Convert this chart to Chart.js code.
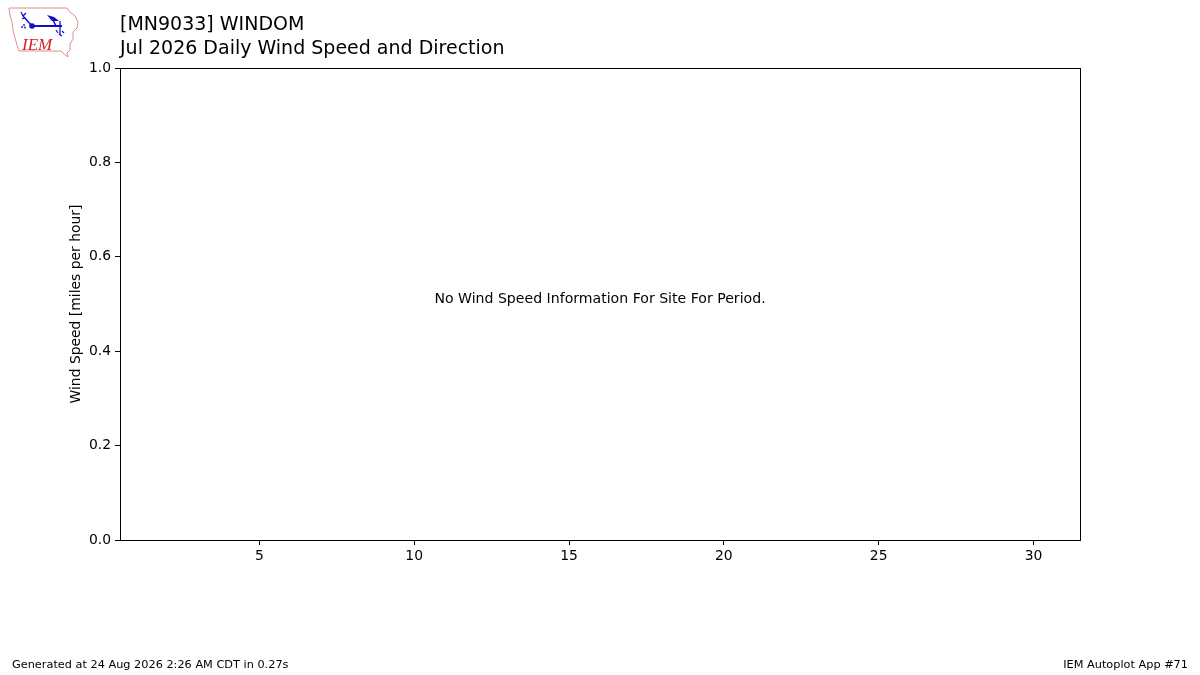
<!DOCTYPE html>
<html>
<head>
<meta charset="utf-8">
<script src="https://cdn.jsdelivr.net/npm/chart.js@4.4.1/dist/chart.umd.min.js"></script>
<style>
  body { margin: 0; background: #fff; font-family: "DejaVu Sans", sans-serif; }
  #wrap { position: relative; width: 1200px; height: 675px; overflow: hidden; }
  #chartCanvas { position: absolute; left: 0; top: 0; }
  .title { position: absolute; left: 120px; font-size: 19px; color: #000; white-space: nowrap; line-height: 1; }
  .foot { position: absolute; top: 659px; font-size: 11.3px; color: #000; white-space: nowrap; line-height: 1; }
  #logo { position: absolute; left: 0; top: 0; }
</style>
</head>
<body>
<div id="wrap">
  <canvas id="chartCanvas" width="1200" height="675"></canvas>
  <svg id="logo" width="90" height="62" viewBox="0 0 90 62">
    <path d="M9 8 L67 8 L70 12 L75 16 L78 22 L77 28 L73 32 L73 39 L70 44 L70 50 L67 53 L68 57 L64 54 L61 51 L19 51 L17 45 L15 38 L13 30 L12 22 L10 15 Z"
          fill="none" stroke="#e88a8a" stroke-width="1"/>
    <line x1="32" y1="26" x2="62" y2="26" stroke="#1010c0" stroke-width="2"/>
    <circle cx="32" cy="26" r="2.8" fill="#1010c0"/>
    <path d="M32 26 L23 16" stroke="#1010c0" stroke-width="1.5" fill="none"/>
    <path d="M23 16 L21 12 M23 16 L26 13 M25 18 L22 19" stroke="#1010c0" stroke-width="1.2" fill="none"/>
    <path d="M47 15 L54 17 L59 21 L52 21 Z" fill="#1010c0"/>
    <line x1="53" y1="20" x2="56" y2="26" stroke="#1010c0" stroke-width="1.5"/>
    <line x1="60" y1="21" x2="60" y2="35" stroke="#1010c0" stroke-width="1.3"/>
    <path d="M56 30 L58 33 M62 31 L64 33 M59 34 L62 36" stroke="#1010c0" stroke-width="1.2"/>
    <circle cx="24" cy="25" r="0.9" fill="#1010c0"/>
    <circle cx="22" cy="27" r="0.9" fill="#1010c0"/>
    <circle cx="25" cy="27.5" r="0.9" fill="#1010c0"/>
    <text x="22" y="50" font-family="Liberation Serif, serif" font-style="italic" font-size="17" fill="#d42020">IEM</text>
  </svg>
  <div class="title" style="top:14px;">[MN9033] WINDOM</div>
  <div class="title" style="top:38px;">Jul 2026 Daily Wind Speed and Direction</div>
  <div class="foot" style="left:12px;">Generated at 24 Aug 2026 2:26 AM CDT in 0.27s</div>
  <div class="foot" style="right:12px;">IEM Autoplot App #71</div>
</div>
<script>
// Days of the month (July 2026)
const days = [1, 2, 3, 4, 5, 6, 7, 8, 9, 10, 11, 12, 13, 14, 15, 16, 17, 18, 19, 20,
              21, 22, 23, 24, 25, 26, 27, 28, 29, 30, 31];
// No wind observations available for this site / period
const avgSpeed = [];
const avgDirection = [];

// Axis ticks
const xTicks = [5, 10, 15, 20, 25, 30];
const yTicks = [0.0, 0.2, 0.4, 0.6, 0.8, 1.0];

const noDataMsg = 'No Wind Speed Information For Site For Period.';

// build points only where a speed exists
const points = [];
for (let i = 0; i < days.length; i++) {
    if (avgSpeed[i] !== undefined) {
        points.push({ x: days[i], y: avgSpeed[i] });
    }
}

// frame around the plot + the "no data" message
const framePlugin = {
    id: 'frame',
    afterDraw(chart) {
        const c = chart.ctx;
        const a = chart.chartArea;
        c.save();
        c.strokeStyle = '#000';
        c.lineWidth = 1;
        c.strokeRect(a.left + 0.5, a.top + 0.5, a.right - a.left, a.bottom - a.top);
        if (points.length === 0) {
            c.fillStyle = '#000';
            c.font = '14.1px "DejaVu Sans"';
            c.textAlign = 'center';
            c.textBaseline = 'middle';
            const px = chart.scales.x.getPixelForValue(16);
            const py = chart.scales.y.getPixelForValue(0.51);
            c.fillText(noDataMsg, px, py);
        }
        c.restore();
    }
};

const tickFont = { family: 'DejaVu Sans', size: 13.9 };

const ctx = document.getElementById('chartCanvas').getContext('2d');
const windChart = new Chart(ctx, {
    type: 'scatter',
    data: {
        datasets: [{
            label: 'Wind Speed',
            data: points,
            borderColor: '#1f77b4',
            backgroundColor: '#1f77b4',
            pointRadius: 4
        }]
    },
    options: {
        responsive: false,
        animation: false,
        devicePixelRatio: 1,
        layout: {
            padding: { left: 60, right: 120, top: 68, bottom: 85 }
        },
        plugins: {
            legend: { display: false },
            tooltip: { enabled: false }
        },
        scales: {
            x: {
                type: 'linear',
                min: 0.5,
                max: 31.5,
                afterBuildTicks: (scale) => { scale.ticks = xTicks.map(v => ({ value: v })); },
                afterFit: (scale) => { scale.height = 50; },
                grid: { drawOnChartArea: false, drawTicks: true, tickLength: 5, tickWidth: 1, color: '#000' },
                border: { display: true, color: '#000', width: 1 },
                ticks: { color: '#000', font: tickFont, padding: 3, maxRotation: 0 }
            },
            y: {
                type: 'linear',
                min: 0,
                max: 1,
                afterBuildTicks: (scale) => { scale.ticks = yTicks.map(v => ({ value: v })); },
                afterFit: (scale) => { scale.width = 60; },
                grid: { drawOnChartArea: false, drawTicks: true, tickLength: 5, tickWidth: 1, color: '#000' },
                border: { display: true, color: '#000', width: 1 },
                ticks: {
                    color: '#000', font: tickFont, padding: 4,
                    callback: (v) => Number(v).toFixed(1)
                },
                title: {
                    display: true,
                    text: 'Wind Speed [miles per hour]',
                    color: '#000',
                    font: tickFont,
                    padding: { top: 8, bottom: 0 }
                }
            }
        }
    },
    plugins: [framePlugin]
});
</script>
</body>
</html>
